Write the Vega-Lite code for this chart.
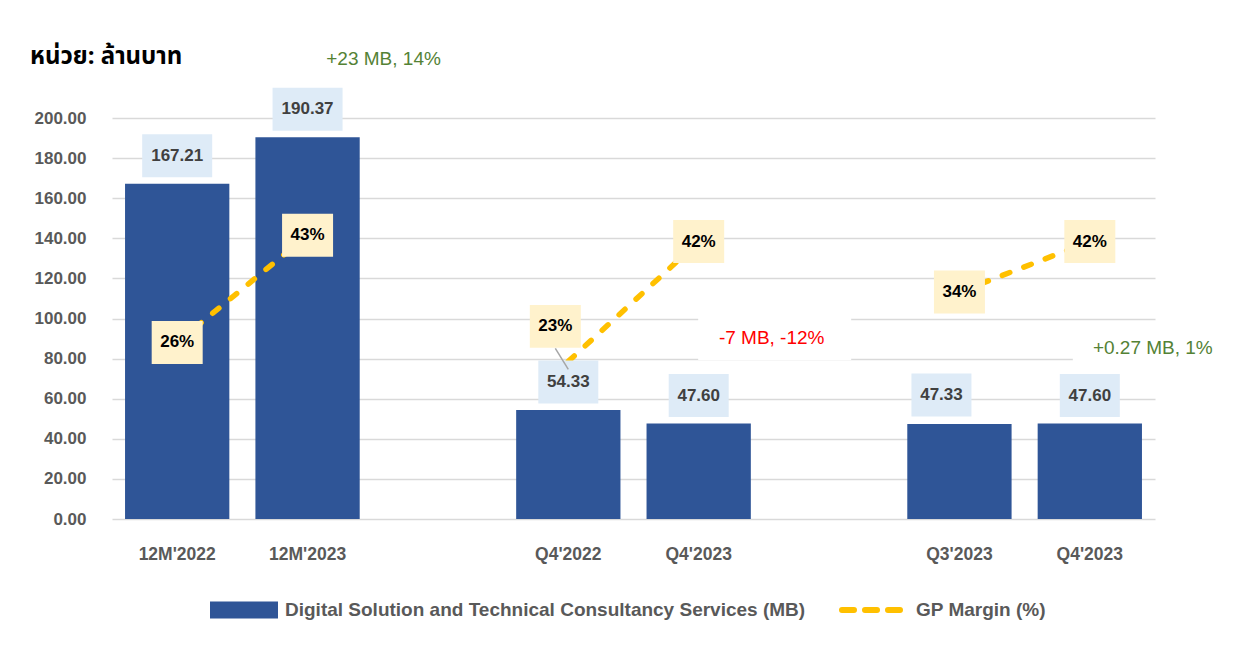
{
  "$schema": "https://vega.github.io/schema/vega-lite/v6.json",
  "width": 1043,
  "height": 401,
  "autosize": "none",
  "padding": {"left": 112, "top": 118, "right": 99, "bottom": 127},
  "background": "white",
  "config": {
    "view": {"stroke": null},
    "font": "Liberation Sans",
    "axis": {"labelFont": "Liberation Sans"},
    "legend": {"labelFont": "Liberation Sans"}
  },
  "title": {
    "text": "หน่วย: ล้านบาท",
    "anchor": "start",
    "frame": "group",
    "dx": -82,
    "offset": -19,
    "fontSize": 24,
    "fontWeight": "bold",
    "color": "#000000",
    "font": "Noto Sans Thai, Tahoma, Liberation Sans, DejaVu Sans, sans-serif"
  },
  "datasets": {
    "main": [
      {"key": "12M'2022", "value": 167.21, "gp": 0.26, "grp": "A"},
      {"key": "12M'2023", "value": 190.37, "gp": 0.43, "grp": "A"},
      {"key": "Q4'2022", "value": 54.33, "gp": 0.23, "grp": "B"},
      {"key": "Q4'2023", "value": 47.60, "gp": 0.42, "grp": "B"},
      {"key": "Q3'2023", "value": 47.33, "gp": 0.34, "grp": "C"},
      {"key": "Q4'2023 ", "value": 47.60, "gp": 0.42, "grp": "C"}
    ],
    "notes": [
      {"key": "12M'2023", "y": 229.4, "text": "+23 MB, 14%", "id": "n1"},
      {"key": "Q4'2023", "y": 90.3, "text": "-7 MB, -12%", "id": "n2"},
      {"key": "Q4'2023 ", "y": 85.3, "text": "+0.27 MB, 1%", "id": "n3"}
    ]
  },
  "encoding": {
    "x": {
      "field": "key",
      "type": "nominal",
      "sort": null,
      "scale": {
        "domain": ["12M'2022", "12M'2023", "_1", "Q4'2022", "Q4'2023", "_2", "Q3'2023", "Q4'2023 "],
        "paddingInner": 0.2,
        "paddingOuter": 0.1
      },
      "axis": {
        "title": null,
        "labelExpr": "indexof(datum.label,'_')==0 ? '' : datum.label",
        "labelAngle": 0,
        "domain": false,
        "ticks": false,
        "labelFontSize": 17.5,
        "labelFontWeight": "bold",
        "labelColor": "#595959",
        "labelPadding": 26
      }
    }
  },
  "layer": [
    {
      "layer": [
        {
          "data": {"name": "main"},
          "mark": {"type": "bar", "fill": "#2F5597"},
          "encoding": {
            "y": {
              "field": "value",
              "type": "quantitative",
              "scale": {"domain": [0, 200]},
              "axis": {
                "title": null,
                "values": [0, 20, 40, 60, 80, 100, 120, 140, 160, 180, 200],
                "format": ".2f",
                "grid": true,
                "gridColor": "#D9D9D9",
                "gridWidth": 1.5,
                "domain": false,
                "ticks": false,
                "labelFontSize": 17,
                "labelFontWeight": "bold",
                "labelColor": "#595959",
                "labelPadding": 26
              }
            },
            "fill": {
              "datum": "Digital Solution and Technical Consultancy Services (MB)",
              "scale": {"range": ["#2F5597"]},
              "legend": {
                "title": null,
                "orient": "none",
                "legendX": 98,
                "legendY": 458,
                "padding": 0,
                "symbolType": "M-1,-0.25H1V0.25H-1Z",
                "symbolSize": 4624,
                "symbolStrokeWidth": 0,
                "labelOffset": 7,
                "labelFontSize": 19,
                "labelFontWeight": "bold",
                "labelColor": "#595959",
                "labelLimit": 800
              }
            }
          }
        },
        {
          "data": {"name": "notes"},
          "transform": [{"filter": "datum.id == 'n2'"}],
          "mark": {"type": "point", "shape": "M-1,-0.2745H1V0.2745H-1Z", "size": 23409, "filled": true, "fill": "#FFFFFF", "opacity": 1, "strokeWidth": 0, "xOffset": 76},
          "encoding": {"y": {"datum": 89.8, "type": "quantitative"}}
        },
        {
          "data": {"name": "notes"},
          "transform": [{"filter": "datum.id == 'n3'"}],
          "mark": {"type": "point", "shape": "M-1,-0.25H1V0.25H-1Z", "size": 25600, "filled": true, "fill": "#FFFFFF", "opacity": 1, "strokeWidth": 0, "xOffset": 63},
          "encoding": {"y": {"datum": 88.8, "type": "quantitative"}}
        },
        {
          "data": {"name": "notes"},
          "transform": [{"filter": "datum.id == 'n1'"}],
          "mark": {"type": "text", "fontSize": 19, "color": "#548235", "dx": 76, "baseline": "middle"},
          "encoding": {"y": {"field": "y", "type": "quantitative"}, "text": {"field": "text"}}
        },
        {
          "data": {"name": "notes"},
          "transform": [{"filter": "datum.id == 'n2'"}],
          "mark": {"type": "text", "fontSize": 19, "color": "#FF0000", "dx": 73, "baseline": "middle"},
          "encoding": {"y": {"field": "y", "type": "quantitative"}, "text": {"field": "text"}}
        },
        {
          "data": {"name": "notes"},
          "transform": [{"filter": "datum.id == 'n3'"}],
          "mark": {"type": "text", "fontSize": 19, "color": "#548235", "dx": 63, "baseline": "middle"},
          "encoding": {"y": {"field": "y", "type": "quantitative"}, "text": {"field": "text"}}
        }
      ]
    },
    {
      "data": {"name": "main"},
      "mark": {"type": "line", "strokeWidth": 5.5, "strokeDash": [8, 15], "strokeCap": "round"},
      "encoding": {
        "y": {"field": "gp", "type": "quantitative", "scale": {"domain": [-0.02, 0.616]}, "axis": null},
        "detail": {"field": "grp"},
        "stroke": {
          "datum": "GP Margin (%)",
          "scale": {"range": ["#FFC000"]},
          "legend": {
            "title": null,
            "orient": "none",
            "legendX": 727,
            "legendY": 459,
            "padding": 0,
            "symbolType": "stroke",
            "symbolSize": 3600,
            "symbolStrokeWidth": 6,
            "symbolDash": [12, 11],
            "labelOffset": 11,
            "labelFontSize": 19,
            "labelFontWeight": "bold",
            "labelColor": "#595959",
            "encode": {"symbols": {"update": {"strokeCap": {"value": "round"}}}}
          }
        }
      }
    },
    {
      "data": {"name": "main"},
      "encoding": {
        "y": {"field": "value", "type": "quantitative", "scale": {"domain": [0, 200]}, "axis": null}
      },
      "layer": [
        {
          "transform": [{"filter": "datum.key != 'Q3\\'2023'"}],
          "mark": {"type": "point", "filled": true, "fill": "#DEEBF7", "opacity": 1, "strokeWidth": 0, "yOffset": -28},
          "encoding": {
            "shape": {"condition": {"test": "datum.value >= 100", "value": "M-1,-0.614H1V0.614H-1Z"}, "value": "M-1,-0.717H1V0.717H-1Z"},
            "size": {"condition": {"test": "datum.value >= 100", "value": 4900}, "value": 3600}
          }
        },
        {
          "transform": [{"filter": "datum.key == 'Q3\\'2023'"}],
          "mark": {"type": "point", "filled": true, "fill": "#DEEBF7", "opacity": 1, "strokeWidth": 0, "yOffset": -29, "xOffset": -18, "shape": "M-1,-0.717H1V0.717H-1Z", "size": 3600}
        },
        {
          "transform": [{"filter": "datum.key != 'Q3\\'2023'"}],
          "mark": {"type": "text", "fontSize": 17, "fontWeight": "bold", "color": "#404040", "dy": -28, "baseline": "middle"},
          "encoding": {"text": {"field": "value", "type": "quantitative", "format": ".2f"}}
        },
        {
          "transform": [{"filter": "datum.key == 'Q3\\'2023'"}],
          "mark": {"type": "text", "fontSize": 17, "fontWeight": "bold", "color": "#404040", "dy": -29, "dx": -18, "baseline": "middle"},
          "encoding": {"text": {"field": "value", "type": "quantitative", "format": ".2f"}}
        }
      ]
    },
    {
      "data": {"name": "main"},
      "encoding": {
        "y": {"field": "gp", "type": "quantitative", "scale": {"domain": [-0.02, 0.616]}, "axis": null}
      },
      "layer": [
        {
          "transform": [{"filter": "datum.key == 'Q4\\'2022'"}],
          "mark": {"type": "rule", "color": "#A6A6A6", "strokeWidth": 1.5, "xOffset": -13, "yOffset": -13, "x2Offset": 0, "y2Offset": 8},
          "encoding": {
            "x": {"field": "key", "type": "nominal", "bandPosition": 0.5},
            "x2": {"field": "key", "bandPosition": 0.5},
            "y2": {"field": "gp"}
          }
        },
        {
          "transform": [{"filter": "datum.key != 'Q4\\'2022'"}],
          "mark": {"type": "point", "shape": "M-1,-0.843H1V0.843H-1Z", "size": 2601, "filled": true, "fill": "#FFF2CC", "opacity": 1, "strokeWidth": 0}
        },
        {
          "transform": [{"filter": "datum.key == 'Q4\\'2022'"}],
          "mark": {"type": "point", "shape": "M-1,-0.843H1V0.843H-1Z", "size": 2601, "filled": true, "fill": "#FFF2CC", "opacity": 1, "strokeWidth": 0, "xOffset": -13, "yOffset": -35}
        },
        {
          "transform": [{"filter": "datum.key != 'Q4\\'2022'"}],
          "mark": {"type": "text", "fontSize": 17, "fontWeight": "bold", "color": "#000000", "baseline": "middle"},
          "encoding": {"text": {"field": "gp", "type": "quantitative", "format": ".0%"}}
        },
        {
          "transform": [{"filter": "datum.key == 'Q4\\'2022'"}],
          "mark": {"type": "text", "fontSize": 17, "fontWeight": "bold", "color": "#000000", "baseline": "middle", "dx": -13, "dy": -35},
          "encoding": {"text": {"field": "gp", "type": "quantitative", "format": ".0%"}}
        }
      ]
    }
  ],
  "resolve": {"scale": {"y": "independent"}}
}
